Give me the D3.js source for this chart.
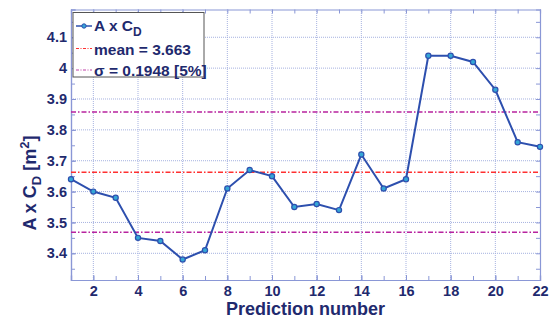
<!DOCTYPE html>
<html>
<head>
<meta charset="utf-8">
<script src="https://cdn.jsdelivr.net/npm/d3@7"></script>
<style>
  html, body { margin: 0; padding: 0; background: #fff; }
  svg { display: block; font-family: Arial, "Liberation Sans", sans-serif; }
</style>
</head>
<body>
<svg id="chart" width="553" height="320"></svg>
<script>
// Prediction index and A x C_D value for each prediction
const predictions = [1,2,3,4,5,6,7,8,9,10,11,12,13,14,15,16,17,18,19,20,21,22];
const acdValues = [3.64,3.60,3.58,3.45,3.44,3.38,3.41,3.61,3.67,3.65,3.55,3.56,3.54,3.72,3.61,3.64,4.04,4.04,4.02,3.93,3.76,3.745];
const meanValue = [3.663];
const sigmaValue = [0.1948];
const xTicks = [2,4,6,8,10,12,14,16,18,20,22];
const yTicks = [3.4,3.5,3.6,3.7,3.8,3.9,4.0,4.1];
const yTickLabels = ["3.4","3.5","3.6","3.7","3.8","3.9","4","4.1"];

const svg = d3.select("#chart");
const m = { left: 71, top: 9.5, right: 13, bottom: 40 };
const W = 553, H = 320;

const x = d3.scaleLinear().domain([1, 22]).range([m.left, W - m.right]);
const y = d3.scaleLinear().domain([3.3135, 4.19]).range([H - m.bottom, m.top]);

const navy = "#1f2a6e";
const axisCol = "#8a97d6";
const gridCol = "#a6b2e0";

// grid
const g = svg.append("g");
g.selectAll("line.gx").data(xTicks.filter(d => d < 22)).enter().append("line")
  .attr("x1", d => x(d)).attr("x2", d => x(d))
  .attr("y1", y.range()[0]).attr("y2", y.range()[1])
  .attr("stroke", gridCol).attr("stroke-width", 1).attr("stroke-dasharray", "1,1");
g.selectAll("line.gy").data(yTicks).enter().append("line")
  .attr("y1", d => y(d)).attr("y2", d => y(d))
  .attr("x1", x.range()[0]).attr("x2", x.range()[1])
  .attr("stroke", gridCol).attr("stroke-width", 1).attr("stroke-dasharray", "1,1");

// axes: ticks point inward
const minorX = d3.range(1, 23);
const minorY = d3.range(3.35, 4.19, 0.05);
const xb = svg.append("g").attr("transform", `translate(0,${y.range()[0]})`)
  .call(d3.axisBottom(x).tickValues(xTicks).tickSize(-5).tickPadding(6).tickFormat(d3.format("d")));
const xt = svg.append("g").attr("transform", `translate(0,${y.range()[1]})`)
  .call(d3.axisTop(x).tickValues(minorX).tickSize(-4).tickFormat(""));
const xbm = svg.append("g").attr("transform", `translate(0,${y.range()[0]})`)
  .call(d3.axisBottom(x).tickValues(minorX).tickSize(-4).tickFormat(""));
const yl = svg.append("g").attr("transform", `translate(${x.range()[0]},0)`)
  .call(d3.axisLeft(y).tickValues(yTicks).tickSize(-5).tickPadding(4)
    .tickFormat((d, i) => yTickLabels[i]));
const ylm = svg.append("g").attr("transform", `translate(${x.range()[0]},0)`)
  .call(d3.axisLeft(y).tickValues(minorY).tickSize(-4).tickFormat(""));
const yr = svg.append("g").attr("transform", `translate(${x.range()[1]},0)`)
  .call(d3.axisRight(y).tickValues(minorY).tickSize(-4).tickFormat(""));

[xb, xt, xbm, yl, ylm, yr].forEach(a => {
  a.select(".domain").attr("stroke", axisCol).attr("stroke-width", 1.2);
  a.selectAll(".tick line").attr("stroke", axisCol);
  a.selectAll(".tick text").attr("fill", navy).attr("font-size", 14.5)
    .attr("font-weight", "bold").attr("font-family", "Arial, 'Liberation Sans', sans-serif");
});

// mean and ±sigma reference lines
const mu = meanValue[0], sd = sigmaValue[0];
svg.append("line").attr("x1", x.range()[0]).attr("x2", x.range()[1])
  .attr("y1", y(mu)).attr("y2", y(mu))
  .attr("stroke", "#ff3030").attr("stroke-width", 1.5).attr("stroke-dasharray", "5,2,1.5,2");
[mu + sd, mu - sd].forEach(v => {
  svg.append("line").attr("x1", x.range()[0]).attr("x2", x.range()[1])
    .attr("y1", y(v)).attr("y2", y(v))
    .attr("stroke", "#b8239f").attr("stroke-width", 1.5).attr("stroke-dasharray", "5,2,1.5,2");
});

// data series
const lineCol = "#2d4fae";
const pts = predictions.map((p, i) => [p, acdValues[i]]);
svg.append("path").datum(pts)
  .attr("fill", "none").attr("stroke", lineCol).attr("stroke-width", 2)
  .attr("d", d3.line().x(d => x(d[0])).y(d => y(d[1])));
svg.selectAll("circle.pt").data(pts).enter().append("circle")
  .attr("cx", d => x(d[0])).attr("cy", d => y(d[1])).attr("r", 2.6)
  .attr("fill", "#35a6d6").attr("stroke", lineCol).attr("stroke-width", 1.2);

// legend
const lg = svg.append("g");
lg.append("rect").attr("x", 73).attr("y", 12.5).attr("width", 131).attr("height", 64.5)
  .attr("fill", "#fff").attr("stroke", "#555").attr("stroke-width", 1);
const items = [
  { y: 26, type: "series" },
  { y: 48.5, type: "mean" },
  { y: 70, type: "sigma" }
];
lg.append("line").attr("x1", 76).attr("x2", 92).attr("y1", items[0].y).attr("y2", items[0].y)
  .attr("stroke", lineCol).attr("stroke-width", 1.5);
lg.append("circle").attr("cx", 84).attr("cy", items[0].y).attr("r", 2.2)
  .attr("fill", "#35a6d6").attr("stroke", lineCol).attr("stroke-width", 1);
lg.append("line").attr("x1", 76).attr("x2", 92).attr("y1", items[1].y).attr("y2", items[1].y)
  .attr("stroke", "#ff3030").attr("stroke-width", 1.2).attr("stroke-dasharray", "3,1.5,1,1.5");
lg.append("line").attr("x1", 76).attr("x2", 92).attr("y1", items[2].y).attr("y2", items[2].y)
  .attr("stroke", "#c040a8").attr("stroke-width", 1.2).attr("stroke-dasharray", "3,1.5,1,1.5");

const t1 = lg.append("text").attr("x", 94).attr("y", 31).attr("fill", navy)
  .attr("font-size", 15.5).attr("font-weight", "bold");
t1.append("tspan").text("A x C");
t1.append("tspan").attr("font-size", 12).attr("dy", 5).text("D");
lg.append("text").attr("x", 94).attr("y", 54.5).attr("fill", navy)
  .attr("font-size", 15.5).attr("font-weight", "bold").text("mean = 3.663");
lg.append("text").attr("x", 94).attr("y", 76).attr("fill", navy)
  .attr("font-size", 15.5).attr("font-weight", "bold").text("σ = 0.1948 [5%]");

// axis titles
svg.append("text").attr("x", (x.range()[0] + x.range()[1]) / 2).attr("y", 314.5)
  .attr("text-anchor", "middle").attr("fill", navy).attr("font-size", 18)
  .attr("font-weight", "bold").text("Prediction number");

const yt = svg.append("text").attr("transform", "translate(36,183) rotate(-90)")
  .attr("text-anchor", "middle").attr("fill", navy).attr("font-size", 18).attr("font-weight", "bold");
yt.append("tspan").text("A x C");
yt.append("tspan").attr("font-size", 13).attr("dy", 5).text("D");
yt.append("tspan").attr("dy", -5).text(" [m");
yt.append("tspan").attr("font-size", 13).attr("dy", -7).text("2");
yt.append("tspan").attr("dy", 7).text("]");
</script>
</body>
</html>
